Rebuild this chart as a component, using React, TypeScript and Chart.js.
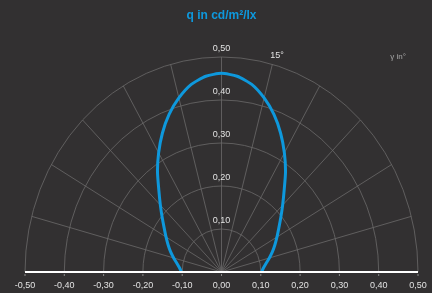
import React, { useEffect, useRef } from "react";
import { Chart, registerables } from "chart.js";

Chart.register(...registerables);

const TITLE = "q in cd/m²/lx";
const GAMMA_UNIT = "γ in°";
const ANGLE_LABEL = "15°";
const xTicks = [-0.5, -0.4, -0.3, -0.2, -0.1, 0, 0.1, 0.2, 0.3, 0.4, 0.5];
const rTicks = [0.1, 0.2, 0.3, 0.4, 0.5];
const gammaDeg = [
  -90, -85, -80, -75, -70, -65, -60, -55, -50, -45, -40, -35, -30, -25, -20, -15, -10, -5,
  0, 5, 10, 15, 20, 25, 30, 35, 40, 45, 50, 55, 60, 65, 70, 75, 80, 85, 90,
];
const qValues = [
  0.102, 0.107, 0.115, 0.126, 0.138, 0.15, 0.163, 0.178, 0.197, 0.22, 0.248, 0.284, 0.32, 0.356, 0.39, 0.419, 0.443, 0.457,
  0.462, 0.457, 0.443, 0.419, 0.39, 0.356, 0.32, 0.284, 0.248, 0.22, 0.197, 0.178, 0.163, 0.15, 0.138, 0.126, 0.115, 0.107, 0.102,
];

const BG = "#323031";
const BLUE = "#0e98dc";
const GRID = "#6b6a6a";
const TXT = "#e2e2e2";
const FONT = "'Liberation Sans', Arial, sans-serif";

const fmt = (v: number) => v.toFixed(2).replace(".", ",");

const polarPlugin = {
  id: "polarDeco",
  beforeDraw(chart: any) {
    const { ctx, scales } = chart;
    const xs = scales.x;
    const ys = scales.y;
    ctx.save();
    ctx.fillStyle = BG;
    ctx.fillRect(0, 0, chart.width, chart.height);
    const cx = xs.getPixelForValue(0);
    const cy = ys.getPixelForValue(0);
    const rx = (r: number) => xs.getPixelForValue(r) - cx;
    const ry = (r: number) => cy - ys.getPixelForValue(r);
    ctx.strokeStyle = GRID;
    ctx.lineWidth = 0.8;
    rTicks.forEach((r) => {
      ctx.beginPath();
      ctx.ellipse(cx, cy, rx(r), ry(r), 0, Math.PI, 2 * Math.PI);
      ctx.stroke();
    });
    const rMax = rTicks[rTicks.length - 1];
    for (let a = 15; a < 180; a += 15) {
      const t = (a * Math.PI) / 180;
      ctx.beginPath();
      ctx.moveTo(cx, cy);
      ctx.lineTo(cx + rx(rMax) * Math.cos(t), cy - ry(rMax) * Math.sin(t));
      ctx.stroke();
    }
    ctx.restore();
  },
  afterDraw(chart: any) {
    const { ctx, scales } = chart;
    const xs = scales.x;
    const ys = scales.y;
    const cx = xs.getPixelForValue(0);
    const cy = ys.getPixelForValue(0);
    ctx.save();
    ctx.strokeStyle = "#ffffff";
    ctx.lineWidth = 2;
    ctx.beginPath();
    ctx.moveTo(xs.getPixelForValue(xTicks[0]), cy);
    ctx.lineTo(xs.getPixelForValue(xTicks[xTicks.length - 1]), cy);
    ctx.stroke();
    ctx.font = `9px ${FONT}`;
    ctx.textAlign = "center";
    ctx.textBaseline = "middle";
    xTicks.forEach((v) => {
      const x = xs.getPixelForValue(v);
      ctx.fillStyle = "#8a8a8a";
      ctx.fillRect(x - 0.5, cy + 2, 1, 2);
      ctx.fillStyle = TXT;
      ctx.fillText(fmt(v), x, cy + 14);
    });
    ctx.fillStyle = TXT;
    rTicks.forEach((r) => {
      ctx.fillText(fmt(r), cx, ys.getPixelForValue(r) - 8);
    });
    ctx.fillText(ANGLE_LABEL, 277, 56);
    ctx.fillStyle = "#a8a8a8";
    ctx.font = `8px ${FONT}`;
    ctx.fillText(GAMMA_UNIT, 398, 57);
    ctx.fillStyle = BLUE;
    ctx.font = `bold 12px ${FONT}`;
    ctx.fillText(TITLE, cx, 16);
    ctx.restore();
  },
};

export default function App() {
  const ref = useRef<HTMLCanvasElement>(null);
  useEffect(() => {
    document.body.style.margin = "0";
    document.body.style.background = BG;
    const pts = gammaDeg.map((g, i) => {
      const t = (g * Math.PI) / 180;
      return { x: qValues[i] * Math.sin(t), y: qValues[i] * Math.cos(t) };
    });
    const chart = new Chart(ref.current!, {
      type: "scatter",
      data: {
        datasets: [
          {
            data: pts,
            showLine: true,
            borderColor: BLUE,
            borderWidth: 3,
            pointRadius: 0,
            tension: 0.2,
            fill: false,
          },
        ],
      },
      options: {
        animation: false,
        responsive: false,
        layout: { padding: { left: 25, right: 14, top: 57, bottom: 21 } },
        plugins: { legend: { display: false }, tooltip: { enabled: false }, title: { display: false } },
        scales: {
          x: { type: "linear", min: -0.5, max: 0.5, display: false },
          y: { type: "linear", min: 0, max: 0.5, display: false },
        },
      },
      plugins: [polarPlugin],
    });
    return () => chart.destroy();
  }, []);
  return (
    <div style={{ width: 432, height: 293, background: BG }}>
      <canvas ref={ref} width={432} height={293} style={{ display: "block" }} />
    </div>
  );
}
